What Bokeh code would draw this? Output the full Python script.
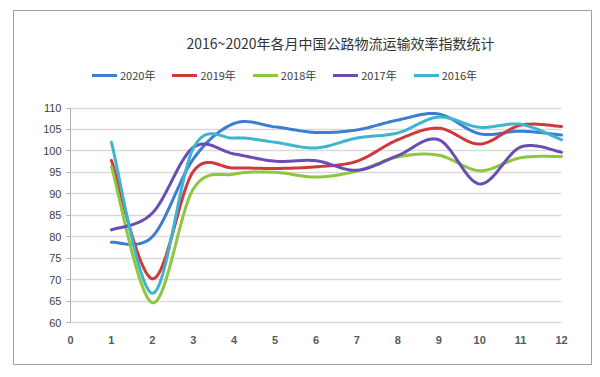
import numpy as np
from bokeh.plotting import figure
from bokeh.models import (Range1d, LinearAxis, Grid, FixedTicker, Legend, LegendItem, Label)
from bokeh.embed import file_html
from bokeh.resources import INLINE

months = [1, 2, 3, 4, 5, 6, 7, 8, 9, 10, 11, 12]
series_names = ["2020年", "2019年", "2018年", "2017年", "2016年"]
v2020 = [78.7, 80.0, 98.1, 106.4, 105.6, 104.3, 104.9, 107.2, 108.6, 104.0, 104.6, 103.7]
v2019 = [97.8, 70.2, 95.2, 96.0, 95.9, 96.3, 97.6, 102.6, 105.3, 101.6, 106.0, 105.7]
v2018 = [96.4, 64.6, 91.1, 94.6, 95.0, 93.9, 95.3, 98.6, 99.0, 95.4, 98.4, 98.7]
v2017 = [81.6, 85.5, 100.8, 99.3, 97.6, 97.7, 95.5, 98.9, 102.6, 92.3, 100.9, 99.7]
v2016 = [102.0, 66.8, 100.6, 103.0, 102.0, 100.7, 103.0, 104.2, 107.9, 105.5, 106.2, 102.6]
x_ticks = [0, 1, 2, 3, 4, 5, 6, 7, 8, 9, 10, 11, 12]
y_ticks = [60, 65, 70, 75, 80, 85, 90, 95, 100, 105, 110]
title_text = "2016~2020年各月中国公路物流运输效率指数统计"
colors = ["#3b7dd0", "#d0383b", "#8dc63f", "#6a4cb5", "#3fb4cf"]


def smooth(xs, ys, n=24):
    xs = np.asarray(xs, float)
    ys = np.asarray(ys, float)
    m = len(xs)
    ox, oy = [], []
    for i in range(m - 1):
        i0 = max(i - 1, 0)
        i3 = min(i + 2, m - 1)
        c1x = xs[i] + (xs[i + 1] - xs[i0]) / 6
        c1y = ys[i] + (ys[i + 1] - ys[i0]) / 6
        c2x = xs[i + 1] - (xs[i3] - xs[i]) / 6
        c2y = ys[i + 1] - (ys[i3] - ys[i]) / 6
        t = np.linspace(0, 1, n, endpoint=(i == m - 2))
        a = (1 - t) ** 3
        b = 3 * (1 - t) ** 2 * t
        c = 3 * (1 - t) * t ** 2
        d = t ** 3
        ox.extend(a * xs[i] + b * c1x + c * c2x + d * xs[i + 1])
        oy.extend(a * ys[i] + b * c1y + c * c2y + d * ys[i + 1])
    return ox, oy


p = figure(width=600, height=377, output_backend="svg", toolbar_location=None,
           x_range=Range1d(-1.393, 12.733), y_range=Range1d(50.21, 132.73),
           x_axis_type=None, y_axis_type=None,
           min_border_left=13, min_border_right=9, min_border_top=10, min_border_bottom=13)
p.outline_line_color = "#a0a0a0"
p.outline_line_width = 1
p.background_fill_color = "white"
p.border_fill_color = "white"
p.grid.visible = False

ygrid = Grid(dimension=1, ticker=FixedTicker(ticks=y_ticks), cross_bounds=(0, 12),
             grid_line_color="#d9d9d9", grid_line_width=1.5)
p.add_layout(ygrid)

yaxis = LinearAxis(ticker=FixedTicker(ticks=y_ticks), fixed_location=0, bounds=(60, 110))
yaxis.axis_line_color = "#b0b0b0"
yaxis.major_tick_line_color = "#b0b0b0"
yaxis.major_tick_out = 4
yaxis.major_tick_in = 0
yaxis.minor_tick_line_color = None
yaxis.major_label_text_font = "Liberation Sans"
yaxis.major_label_text_font_size = "11px"
yaxis.major_label_text_color = "#404040"
yaxis.major_label_standoff = 5
p.add_layout(yaxis, "left")

xaxis = LinearAxis(ticker=FixedTicker(ticks=x_ticks), fixed_location=60)
xaxis.axis_line_color = None
xaxis.major_tick_line_color = None
xaxis.minor_tick_line_color = None
xaxis.major_tick_out = 0
xaxis.major_tick_in = 0
xaxis.major_label_text_font = "Liberation Sans"
xaxis.major_label_text_font_size = "11px"
xaxis.major_label_text_font_style = "bold"
xaxis.major_label_text_color = "#595959"
xaxis.major_label_standoff = 13
p.add_layout(xaxis, "below")

items = []
for name, vals, col in zip(series_names, [v2020, v2019, v2018, v2017, v2016], colors):
    sx, sy = smooth(months, vals)
    r = p.line(sx, sy, line_color=col, line_width=3, line_cap="round", line_join="round")
    items.append(LegendItem(label=name, renderers=[r]))

legend = Legend(items=items, orientation="horizontal", location=(79, 281),
                background_fill_alpha=0, border_line_color=None,
                label_text_font="Noto Sans CJK SC", label_text_font_size="11px",
                label_text_color="#404040", glyph_width=25, glyph_height=14,
                label_standoff=3, spacing=17, padding=0, margin=0)
p.add_layout(legend)

title = Label(x=327, y=322, x_units="screen", y_units="screen", text=title_text,
              text_align="center", text_baseline="middle", text_font="Noto Sans CJK SC",
              text_font_size="14px", text_color="#333333")
p.add_layout(title)

open("out.html", "w").write(file_html(p, INLINE))
